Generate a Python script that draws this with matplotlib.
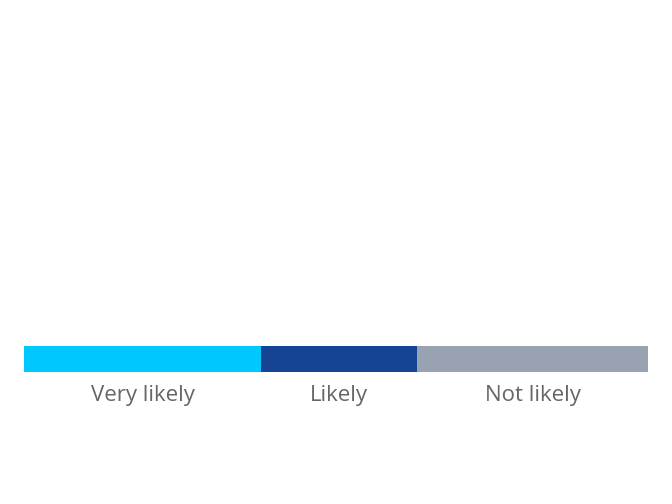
import matplotlib.pyplot as plt
import numpy as np

# Dati
categories = ['Very likely', 'Likely', 'Not likely']
values = [38, 25, 37]
colors = ['#00C8FF', '#144493', '#98A2B0']

fig = plt.figure(figsize=(6.72, 5.04), dpi=100)
# asse che copre esattamente la barra
ax = fig.add_axes([24 / 672, (504 - 372) / 504, 624 / 672, 26 / 504])

left = 0
for cat, val, col in zip(categories, values, colors):
    ax.barh(0, val, left=left, height=1, color=col, edgecolor='none')
    ax.text(left + val / 2, -1.4, cat, ha='center', va='center',
            fontsize=16, color='#666666', family=['Open Sans', 'DejaVu Sans'],
            transform=ax.transData)
    left += val

ax.set_xlim(0, sum(values))
ax.set_ylim(-0.5, 0.5)
ax.axis('off')

fig.savefig('out.png', dpi=100)
